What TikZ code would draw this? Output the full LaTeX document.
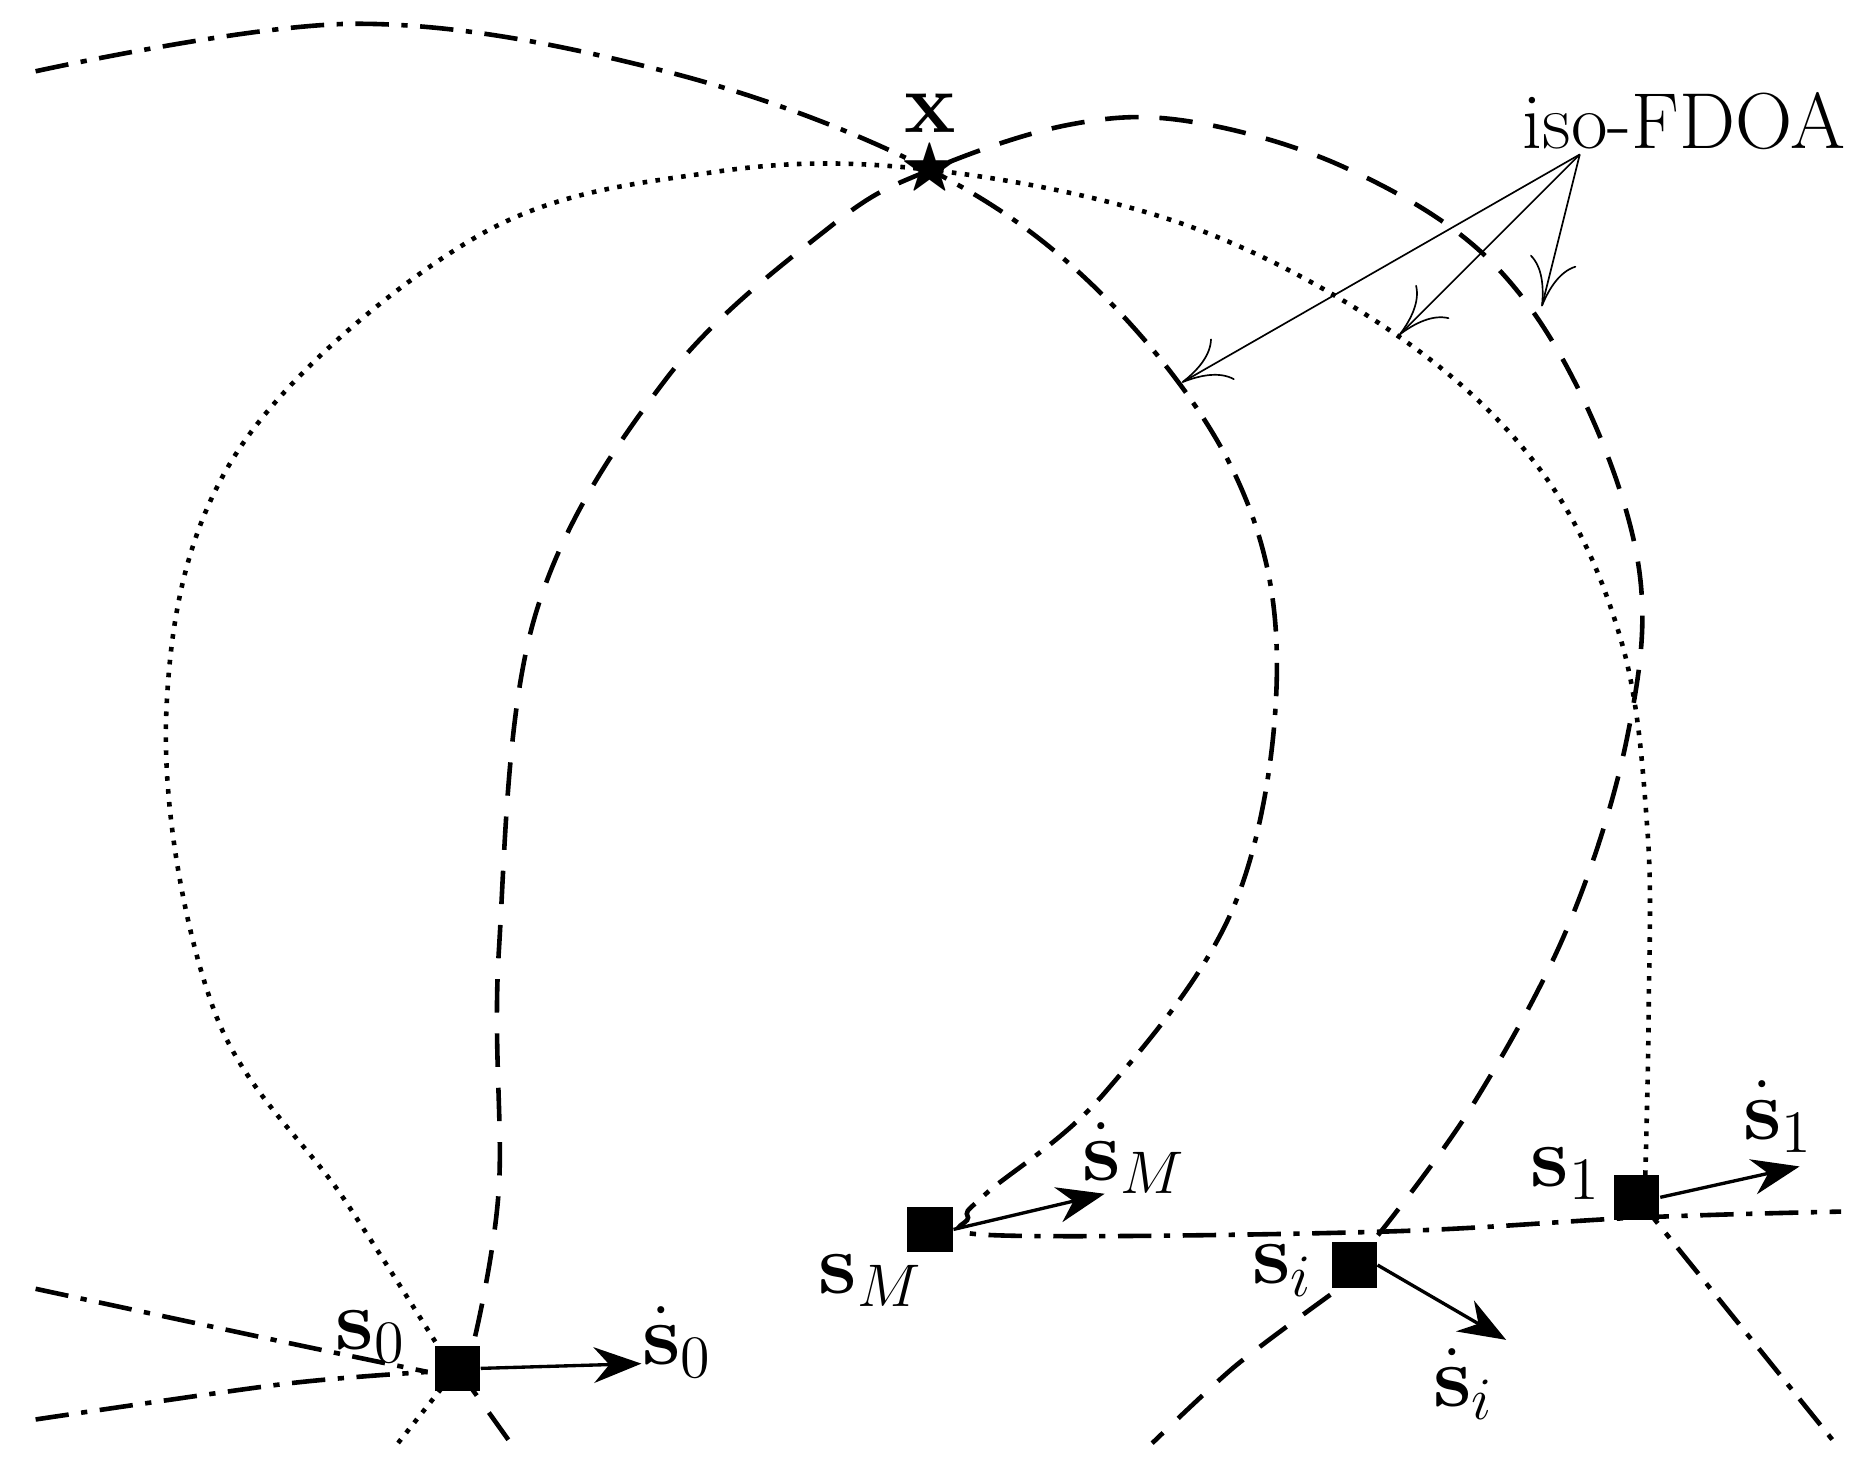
\documentclass[tikz,border=0pt]{standalone}
\usepackage{amsmath,amssymb,bm}
\usetikzlibrary{arrows.meta}
\begin{document}
\begin{tikzpicture}[x=0.01cm,y=-0.01cm,
  sq/.style={fill=black,minimum size=0.38cm,inner sep=0pt},
  lab/.style={font=\fontsize{21}{24}\selectfont},
  vel/.style={-{Stealth[length=0.4cm,width=0.3cm]},thick},
  ptr/.style={-{To[length=0.4cm,width=0.4cm]}},
  dd/.style={line width=1.1pt,dash pattern=on 8pt off 3pt on 1.5pt off 3pt},
  ds/.style={line width=1.1pt,dash pattern=on 8pt off 5pt},
  dt/.style={line width=1.1pt,dotted}]
\useasboundingbox (0,0) rectangle (1560,1239);
\node[sq] (s0) at (385,1152) {};
\node[sq] (sM) at (783,1035) {};
\node[sq] (si) at (1140,1065) {};
\node[sq] (s1) at (1378,1008) {};
\node[font=\Large,inner sep=0pt] (x) at (783,143) {$\bigstar$};
% dash-dot curve
\draw[dd] plot[smooth,tension=0.6] coordinates {(30,60) (300,20) (560,60) (783,143) (930,250) (1040,400) (1075,560) (1040,760) (930,920) (830,1005) (815,1025) (840,1040) (1160,1037) (1380,1025) (1550,1020)};
\draw[dd] plot[smooth] coordinates {(30,1085) (240,1130) (360,1155)};
\draw[dd] plot[smooth] coordinates {(30,1195) (240,1165) (360,1155)};
\draw[dd] (s1.center) -- (1545,1215);
% dotted curve
\draw[dt] plot[smooth,tension=0.6] coordinates {(378,1148) (290,1010) (180,850) (140,600) (200,380) (400,200) (600,145) (783,143) (1000,190) (1180,285) (1300,400) (1365,540) (1387,700) (1388,850) (1385,995)};
\draw[dt] (s0.center) -- (335,1215);
% dashed curve
\draw[ds] plot[smooth,tension=0.6] coordinates {(400,1125) (420,1000) (420,800) (450,520) (560,320) (700,190) (783,143) (900,105) (1000,102) (1130,140) (1250,215) (1330,330) (1380,480) (1370,620) (1320,780) (1240,930) (1160,1040)};
\draw[ds] plot[smooth] coordinates {(1120,1090) (1040,1150) (970,1215)};
\draw[ds] (s0.center) -- (430,1215);
% labels
\node[lab] (xl) at (783,95) {$\mathbf{x}$};
\node[lab,font=\fontsize{19}{22}\selectfont] (iso) at (1418,102) {iso-FDOA};
\coordinate (p1) at (995,322); \coordinate (p2) at (1178,282); \coordinate (p3) at (1298,258);
\draw[ptr] (1330,130) -- (p1);
\draw[ptr] (1330,130) -- (p2);
\draw[ptr] (1330,130) -- (p3);
\node[lab] (s0l) at (312,1125) {$\mathbf{s}_0$};
\node[lab] (sMl) at (733,1078) {$\mathbf{s}_M$};
\node[lab] (sil) at (1080,1070) {$\mathbf{s}_i$};
\node[lab] (s1l) at (1318,988) {$\mathbf{s}_1$};
\node[lab] (v0) at (570,1130) {$\dot{\mathbf{s}}_0$};
\node[lab] (vM) at (955,975) {$\dot{\mathbf{s}}_M$};
\node[lab] (vi) at (1232,1165) {$\dot{\mathbf{s}}_i$};
\node[lab] (v1) at (1497,940) {$\dot{\mathbf{s}}_1$};
\coordinate (e0) at (540,1148); \coordinate (eM) at (930,1005);
\coordinate (ei) at (1268,1128); \coordinate (e1) at (1515,982);
\draw[vel] (s0.east) -- (e0);
\draw[vel] (sM.east) -- (eM);
\draw[vel] (si.east) -- (ei);
\draw[vel] (s1.east) -- (e1);
\end{tikzpicture}
\end{document}
